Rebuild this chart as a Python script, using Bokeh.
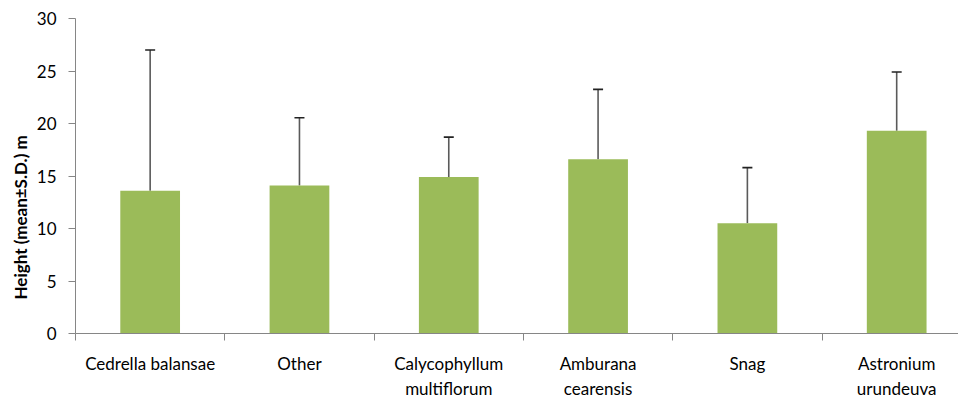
from bokeh.plotting import figure
from bokeh.models import (ColumnDataSource, Whisker, TeeHead, FixedTicker, Range1d, Title,
                          NumeralTickFormatter)
from bokeh.embed import file_html
from bokeh.resources import INLINE

categories = ["Cedrella balansae", "Other", "Calycophyllum\nmultiflorum",
              "Amburana\ncearensis", "Snag", "Astronium\nurundeuva"]
mean_height = [13.6, 14.1, 14.9, 16.6, 10.5, 19.3]
sd_height = [13.4, 6.45, 3.8, 6.65, 5.3, 5.6]
y_ticks = [0, 5, 10, 15, 20, 25, 30]

xs = list(range(len(categories)))
upper = [m + s for m, s in zip(mean_height, sd_height)]
src = ColumnDataSource(dict(x=xs, top=mean_height, upper=upper, lower=mean_height))

FONT = "Lato"

p = figure(width=958, height=401, output_backend="svg", toolbar_location=None,
           x_range=Range1d(-0.5, 5.414), y_range=Range1d(0, 30),
           min_border_left=75, min_border_right=0, min_border_top=18,
           min_border_bottom=67)
p.outline_line_color = None
p.grid.grid_line_color = None
p.background_fill_color = "white"
p.border_fill_color = "white"

p.vbar(x="x", top="top", width=0.4, bottom=0, source=src,
       fill_color="#9BBB59", line_color=None)

w = Whisker(base="x", upper="upper", lower="lower", source=src,
            line_color="#5a5a5a", line_width=1.6,
            upper_head=TeeHead(size=10, line_color="#222222", line_width=1.6),
            lower_head=None)
p.add_layout(w)

# x axis
xa = p.xaxis[0]
xa.ticker = FixedTicker(ticks=xs, minor_ticks=[i - 0.5 for i in xs])
xa.major_label_overrides = {i: c for i, c in enumerate(categories)}
xa.major_tick_out = 0
xa.major_tick_in = 0
xa.minor_tick_out = 7
xa.minor_tick_in = 0
xa.minor_tick_line_color = "#868686"
xa.axis_line_color = "#868686"
xa.major_label_text_font = FONT
xa.major_label_text_font_size = "17px"
xa.major_label_text_color = "#000000"
xa.major_label_standoff = 12

# y axis
ya = p.yaxis[0]
ya.ticker = FixedTicker(ticks=y_ticks)
ya.formatter = NumeralTickFormatter(format="0")
ya.major_tick_out = 7
ya.major_tick_in = 0
ya.minor_tick_line_color = None
ya.axis_line_color = "#868686"
ya.major_tick_line_color = "#868686"
ya.major_label_text_font = FONT
ya.major_label_text_font_size = "17px"
ya.major_label_text_color = "#000000"
ya.major_label_standoff = 12

ttl = Title(text="Height (mean±S.D.) m", align="left", offset=34,
            text_font=FONT, text_font_style="bold", text_font_size="17px",
            text_color="#000000", standoff=6)
p.add_layout(ttl, "left")

open("out.html", "w").write(file_html(p, INLINE))
